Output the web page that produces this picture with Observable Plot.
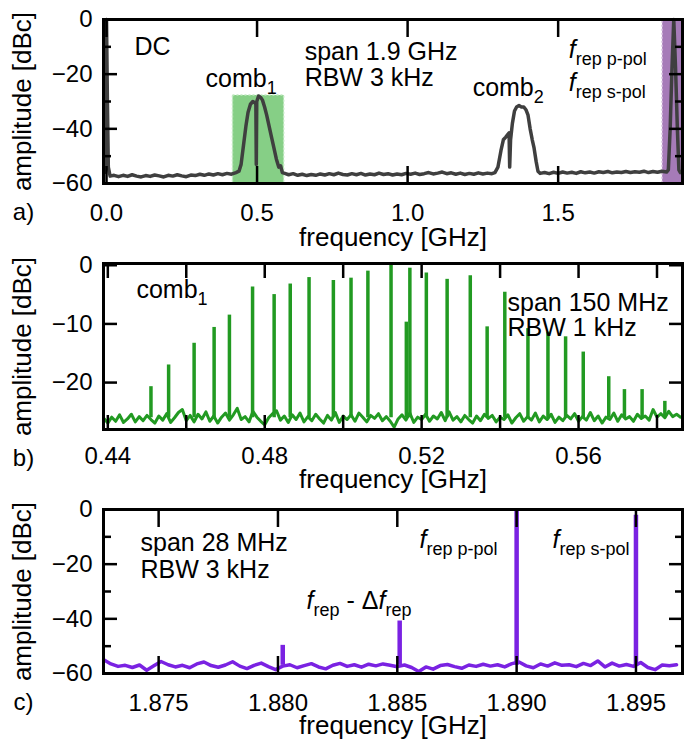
<!DOCTYPE html>
<html><head><meta charset="utf-8">
<script src="https://cdn.jsdelivr.net/npm/d3@7"></script>
<script src="https://cdn.jsdelivr.net/npm/@observablehq/plot@0.6"></script>
<style>
body{margin:0;background:#fff;}
#chart{width:691px;height:740px;}
#chart svg{display:block;}
</style></head><body><div id="chart"></div>
<script>
// ---------------- DATA ----------------
// Panel a: full span spectrum [GHz, dBc]
const spectrumA = [
[-0.006,-56],[-0.002,-2],[0.000,0],[0.003,-30],[0.006,-54],[0.012,-57.3],
[0.025,-57.0],[0.04,-57.5],[0.055,-57.0],[0.07,-57.4],[0.085,-56.8],[0.10,-57.3],[0.115,-57.6],[0.13,-57.1],
[0.145,-57.4],[0.16,-56.9],[0.175,-57.2],[0.19,-57.6],[0.205,-57.0],[0.22,-57.3],[0.235,-56.8],[0.25,-57.2],
[0.265,-57.5],[0.28,-56.9],[0.295,-57.1],[0.31,-56.6],[0.325,-57.0],[0.34,-56.5],[0.355,-56.9],[0.37,-56.4],
[0.385,-56.8],[0.40,-56.3],[0.415,-56.6],[0.43,-56.0],[0.44,-55.5],[0.447,-53],
[0.455,-46],[0.463,-39],[0.470,-34],[0.478,-31],[0.486,-30],[0.493,-30.5],[0.496,-31],[0.4975,-53],[0.499,-30],
[0.505,-28],[0.512,-28.5],[0.518,-29.5],[0.525,-32],[0.532,-35],[0.54,-39],[0.548,-43],[0.556,-47],[0.564,-51],
[0.572,-54],[0.578,-53.5],[0.584,-56],[0.592,-56.3],
[0.605,-56.8],[0.62,-56.4],[0.635,-57.0],[0.65,-56.6],[0.665,-57.1],[0.68,-56.7],[0.695,-57.0],[0.71,-56.5],
[0.725,-56.9],[0.74,-56.4],[0.755,-56.8],[0.77,-56.2],[0.785,-56.7],[0.80,-56.9],[0.815,-56.4],[0.83,-56.8],
[0.845,-56.3],[0.86,-56.9],[0.875,-56.5],[0.89,-56.8],[0.905,-56.2],[0.92,-56.7],[0.935,-56.4],[0.95,-56.9],
[0.965,-56.5],[0.98,-56.8],[0.995,-56.3],[1.01,-56.6],[1.025,-56.2],[1.04,-56.7],[1.055,-56.4],[1.07,-56.0],
[1.085,-56.5],[1.10,-56.2],[1.115,-55.8],[1.13,-56.4],[1.145,-56.1],[1.16,-56.6],[1.175,-56.2],[1.19,-56.7],
[1.205,-56.3],[1.22,-56.6],[1.235,-56.1],[1.25,-56.5],[1.265,-56.2],[1.28,-56.4],[1.29,-56.0],
[1.30,-54],[1.31,-48],[1.318,-44],[1.326,-43],[1.333,-42],[1.337,-41.5],[1.339,-54],[1.342,-44],[1.348,-38],
[1.355,-33.5],[1.362,-32],[1.37,-31.5],[1.378,-32],[1.386,-32],[1.393,-33],[1.40,-35],[1.407,-40],[1.414,-44],
[1.42,-47],[1.427,-52],[1.433,-55.5],[1.44,-56.3],
[1.455,-56.0],[1.47,-56.4],[1.485,-55.9],[1.50,-56.3],[1.515,-55.8],[1.53,-56.2],[1.545,-55.9],[1.56,-56.3],
[1.575,-55.7],[1.59,-56.1],[1.605,-55.8],[1.62,-56.2],[1.635,-55.7],[1.65,-56.0],[1.665,-55.6],[1.68,-56.1],
[1.695,-55.8],[1.71,-56.0],[1.725,-55.6],[1.74,-56.0],[1.755,-55.7],[1.77,-55.9],[1.785,-55.5],[1.80,-56.0],
[1.815,-55.6],[1.83,-55.9],[1.845,-55.5],[1.86,-55.8],[1.866,-55],
[1.872,-40],[1.878,-18],[1.884,0],[1.890,-18],[1.896,-40],[1.901,-55],[1.906,-56]
];
const comb1Box = [{x1: 0.42, x2: 0.59, y1: -60, y2: -27.8}];
const frepBand = [{x1: 1.847, x2: 1.913, y1: -60, y2: 0}];
const xTicksA = [0, 0.5, 1.0, 1.5];
const xTickLabelsA = ["0.0", "0.5", "1.0", "1.5"];
const yTicksA = [0, -20, -40, -60];
const yMinorA = [-10, -30, -50];
const labelsA = [
  {t: "DC", x: 0.093, y: -10.2},
  {t: "span 1.9 GHz", x: 0.658, y: -12.0},
  {t: "RBW 3 kHz", x: 0.658, y: -21.4},
  {t: "comb1", x: 0.329, y: -21.6},
  {t: "comb2", x: 1.216, y: -24.9},
  {t: "frepP", x: 1.535, y: -11.3},
  {t: "frepS", x: 1.535, y: -23.4}
];

// Panel b: comb1 zoom — noise floor and comb lines [GHz, dBc]
const noiseB = [
[0.439,-26.1],[0.440,-26.9],[0.441,-25.9],[0.442,-26.6],[0.443,-25.5],[0.444,-26.8],[0.445,-26.2],[0.446,-25.4],
[0.447,-26.7],[0.448,-25.8],[0.449,-26.5],[0.450,-25.6],[0.451,-26.3],[0.452,-26.9],[0.453,-25.7],[0.454,-26.4],
[0.455,-25.3],[0.456,-26.8],[0.457,-26.0],[0.458,-25.1],[0.459,-24.6],[0.460,-26.5],[0.461,-25.6],[0.462,-26.7],
[0.463,-25.4],[0.464,-26.2],[0.465,-25.0],[0.466,-26.6],[0.467,-25.7],[0.468,-26.9],[0.469,-25.9],[0.470,-25.2],
[0.471,-26.4],[0.472,-25.5],[0.473,-24.4],[0.474,-26.3],[0.475,-25.8],[0.476,-26.7],[0.477,-24.9],[0.478,-25.9],
[0.479,-26.6],[0.480,-27.2],[0.481,-26.0],[0.482,-25.3],[0.483,-24.8],[0.484,-26.4],[0.485,-25.7],[0.486,-26.8],
[0.487,-25.5],[0.488,-26.3],[0.489,-25.2],[0.490,-26.7],[0.491,-25.8],[0.492,-26.5],[0.493,-25.4],[0.494,-26.2],
[0.495,-26.9],[0.496,-25.6],[0.497,-26.4],[0.498,-25.1],[0.499,-26.8],[0.500,-25.7],[0.501,-26.3],[0.502,-25.5],
[0.503,-26.6],[0.504,-25.2],[0.505,-25.9],[0.506,-26.7],[0.507,-25.6],[0.508,-26.1],[0.509,-25.3],[0.510,-26.5],
[0.511,-25.8],[0.512,-26.6],[0.513,-27.6],[0.514,-26.2],[0.515,-25.5],[0.516,-26.4],[0.517,-25.2],[0.518,-26.8],
[0.519,-25.9],[0.520,-26.3],[0.521,-25.4],[0.522,-26.6],[0.523,-25.7],[0.524,-26.2],[0.525,-25.1],[0.526,-26.5],
[0.527,-25.0],[0.528,-26.4],[0.529,-25.8],[0.530,-26.7],[0.531,-25.6],[0.532,-26.3],[0.533,-26.9],[0.534,-25.7],
[0.535,-26.5],[0.536,-25.4],[0.537,-26.1],[0.538,-25.6],[0.539,-26.7],[0.540,-25.9],[0.541,-26.3],[0.542,-25.5],
[0.543,-26.9],[0.544,-26.0],[0.545,-25.3],[0.546,-26.6],[0.547,-25.8],[0.548,-26.4],[0.549,-25.2],[0.550,-26.7],
[0.551,-25.7],[0.552,-26.3],[0.553,-25.4],[0.554,-26.8],[0.555,-25.9],[0.556,-26.5],[0.557,-25.6],[0.558,-26.2],
[0.559,-25.3],[0.560,-26.6],[0.561,-25.8],[0.562,-26.4],[0.563,-25.1],[0.564,-26.5],[0.565,-25.7],[0.566,-26.9],
[0.567,-25.9],[0.568,-26.3],[0.569,-25.2],[0.570,-26.6],[0.571,-25.5],[0.572,-26.2],[0.573,-25.8],[0.574,-26.6],
[0.575,-25.4],[0.576,-26.1],[0.577,-25.7],[0.578,-26.4],[0.579,-24.6],[0.580,-25.9],[0.581,-25.3],[0.582,-26.0],
[0.583,-24.9],[0.584,-25.8],[0.585,-25.4],[0.586,-25.9]
];
const floorB = -26;
const peaksB = [
[0.4510,-20.7],[0.4555,-17.0],[0.4620,-13.3],[0.4671,-10.6],[0.4710,-8.5],[0.4769,-3.7],[0.4824,-5.0],
[0.4865,-3.2],[0.4913,-2.1],[0.4975,-2.6],[0.5020,-2.2],[0.5063,-1.0],[0.5122,0],[0.5161,-9.7],[0.5170,-0.5],
[0.5212,-1.3],[0.5265,-2.4],[0.5324,-1.8],[0.5367,-10.5],[0.5412,-4.6],[0.5471,-10.8],[0.5522,-11.4],
[0.5567,-12.2],[0.5612,-14.8],[0.5677,-19.0],[0.5717,-21.2],[0.5762,-21.2],[0.5820,-23.2]
];
const xTicksB = [0.44, 0.46, 0.48, 0.50, 0.52, 0.54, 0.56, 0.58];
const xLabelTicksB = [0.44, 0.48, 0.52, 0.56];
const yTicksB = [0, -10, -20];
const labelsB = [
  {t: "comb1", x: 0.4473, y: -4.3},
  {t: "span 150 MHz", x: 0.5419, y: -6.4},
  {t: "RBW 1 kHz", x: 0.5419, y: -10.7}
];

// Panel c: repetition-rate region [GHz, dBc]
const noiseC = [
[1.8727,-55.0],[1.8730,-56.5],[1.8733,-57.4],[1.8736,-57.0],[1.8739,-57.8],[1.8742,-56.9],[1.8745,-58.8],
[1.8748,-57.2],[1.8751,-55.6],[1.8754,-56.8],[1.8757,-57.6],[1.8760,-57.0],[1.8763,-57.9],[1.8766,-56.5],
[1.8769,-55.8],[1.8772,-57.1],[1.8775,-57.7],[1.8778,-56.9],[1.8781,-55.7],[1.8784,-57.3],[1.8787,-58.2],
[1.8790,-57.0],[1.8793,-56.2],[1.8796,-57.5],[1.8799,-58.6],[1.8802,-57.3],[1.8805,-56.8],[1.8808,-57.9],
[1.8811,-57.1],[1.8814,-56.4],[1.8817,-57.6],[1.8820,-58.3],[1.8823,-57.0],[1.8826,-56.3],[1.8829,-57.4],
[1.8832,-56.8],[1.8835,-57.7],[1.8838,-56.6],[1.8841,-57.2],[1.8844,-56.5],[1.8847,-57.0],[1.8850,-57.5],
[1.8853,-56.9],[1.8856,-57.8],[1.8859,-59.3],[1.8862,-57.6],[1.8865,-58.4],[1.8868,-57.1],[1.8871,-56.7],
[1.8874,-57.5],[1.8877,-58.1],[1.8880,-56.9],[1.8883,-57.4],[1.8886,-56.6],[1.8889,-57.3],[1.8892,-56.8],
[1.8895,-57.6],[1.8898,-56.4],[1.8901,-55.8],[1.8904,-57.2],[1.8907,-57.9],[1.8910,-56.5],[1.8913,-57.3],
[1.8916,-56.1],[1.8919,-57.0],[1.8922,-56.8],[1.8925,-57.5],[1.8928,-56.3],[1.8931,-57.1],[1.8934,-55.4],
[1.8937,-57.6],[1.8940,-56.2],[1.8943,-57.3],[1.8946,-56.7],[1.8949,-57.4],[1.8952,-56.0],[1.8955,-57.8],
[1.8958,-58.6],[1.8961,-56.9],[1.8964,-57.2],[1.8967,-56.8]
];
const floorC = -57;
const peaksC = [[1.8802,-49.7],[1.8851,-40.8],[1.8900,0],[1.8950,-2.1]];
const xTicksC = [1.875, 1.880, 1.885, 1.890, 1.895];
const yTicksC = [0, -20, -40, -60];
const yMinorC = [-10, -30, -50];
const labelsC = [
  {t: "span 28 MHz", x: 1.87424, y: -12.4},
  {t: "RBW 3 kHz", x: 1.87424, y: -22.3},
  {t: "frepDelta", x: 1.88120, y: -33.3},
  {t: "frepP", x: 1.88593, y: -11.3},
  {t: "frepS", x: 1.89150, y: -11.3}
];

// rich text (subscripts / italics)
const RICH = {
  "comb1": [["comb"], ["1", "sub"]],
  "comb2": [["comb"], ["2", "sub"]],
  "frepP": [["f", "it"], ["rep p-pol", "sub"]],
  "frepS": [["f", "it"], ["rep s-pol", "sub"]],
  "frepDelta": [["f", "it"], ["rep", "sub"], [" - Δ"], ["f", "it"], ["rep", "sub"]]
};

// ---------------- DRAWING ----------------
const FONT = "'Liberation Sans', Arial, Helvetica, sans-serif";
const SVGNS = "http://www.w3.org/2000/svg";

function richify(svg) {
  svg.querySelectorAll("text").forEach(t => {
    const spec = RICH[t.textContent];
    if (!spec) return;
    t.textContent = "";
    let shifted = 0;
    for (const [s, kind] of spec) {
      const ts = document.createElementNS(SVGNS, "tspan");
      ts.textContent = s;
      const want = kind === "sub" ? 7 : 0;
      if (want !== shifted) { ts.setAttribute("dy", want - shifted); shifted = want; }
      if (kind === "sub") ts.setAttribute("font-size", 18);
      if (kind === "it") ts.setAttribute("font-style", "italic");
      t.appendChild(ts);
    }
  });
}

function axes({xTicks, xLabelTicks, xFmt, xTickLen, xPad, yTicks, yMinor, yTickLen}) {
  const m = [];
  m.push(Plot.axisX(xTicks, {anchor: "bottom", tickSize: -xTickLen, fill: "none", label: null, strokeWidth: 2.5}));
  m.push(Plot.axisX(xTicks, {anchor: "top", tickSize: -xTickLen, fill: "none", label: null, strokeWidth: 2.5}));
  m.push(Plot.axisX(xLabelTicks, {anchor: "bottom", tickSize: 0, tickPadding: xPad, tickFormat: xFmt, fontSize: 24, label: null}));
  m.push(Plot.axisY(yTicks, {anchor: "left", tickSize: -yTickLen, tickPadding: yTickLen + 11, fontSize: 24, label: null, strokeWidth: 2.5}));
  m.push(Plot.axisY(yTicks, {anchor: "right", tickSize: -yTickLen, fill: "none", label: null, strokeWidth: 2.5}));
  if (yMinor) {
    m.push(Plot.axisY(yMinor, {anchor: "left", tickSize: -8, fill: "none", label: null, strokeWidth: 2.5}));
    m.push(Plot.axisY(yMinor, {anchor: "right", tickSize: -8, fill: "none", label: null, strokeWidth: 2.5}));
  }
  return m;
}

function titles(letter, xLabelDy) {
  return [
    Plot.text(["amplitude [dBc]"], {frameAnchor: "left", textAnchor: "middle", lineAnchor: "middle", rotate: -90, dx: -81, fontSize: 26, text: d => d}),
    Plot.text(["frequency [GHz]"], {frameAnchor: "bottom", textAnchor: "middle", lineAnchor: "middle", dy: xLabelDy, fontSize: 26, text: d => d}),
    Plot.text([letter], {frameAnchor: "bottom-left", textAnchor: "middle", lineAnchor: "middle", dx: -80, dy: 29, fontSize: 24, text: d => d})
  ];
}

const styleObj = {fontFamily: FONT, fontSize: "24px", color: "black", background: "white", overflow: "visible"};
const root = document.getElementById("chart");

// Panel a
const plotA = Plot.plot({
  width: 691, height: 245, marginLeft: 103, marginRight: 9, marginTop: 19, marginBottom: 62,
  style: styleObj,
  x: {domain: [-0.01, 1.913]},
  y: {domain: [-60, 0]},
  marks: [
    Plot.rect(comb1Box, {x1: "x1", x2: "x2", y1: "y1", y2: "y2", fill: "#86cf86", stroke: "#c2e9c2", strokeWidth: 1.5, strokeDasharray: "2,2"}),
    Plot.rect(frepBand, {x1: "x1", x2: "x2", y1: "y1", y2: "y2", fill: "#a67bb8", stroke: "#d2b8dc", strokeWidth: 1.5, strokeDasharray: "2,2"}),
    Plot.line(spectrumA, {x: d => d[0], y: d => d[1], stroke: "#3f3f3f", strokeWidth: 3.5, strokeLinejoin: "round"}),
    ...axes({xTicks: xTicksA, xLabelTicks: xTicksA, xFmt: (d, i) => xTickLabelsA[i], xTickLen: 17, xPad: 20, yTicks: yTicksA, yMinor: yMinorA, yTickLen: 14}),
    Plot.frame({strokeWidth: 3}),
    Plot.text(labelsA, {x: "x", y: "y", text: "t", textAnchor: "start", fontSize: 25}),
    ...titles("a)", 54)
  ]
});
richify(plotA);
root.appendChild(plotA);

// Panel b
const GREEN = "#229a22";
const plotB = Plot.plot({
  width: 691, height: 245, marginLeft: 103, marginRight: 9, marginTop: 18, marginBottom: 61,
  style: styleObj,
  x: {domain: [0.4389, 0.5865]},
  y: {domain: [-28, 0.3]},
  marks: [
    Plot.line(noiseB, {x: d => d[0], y: d => d[1], stroke: GREEN, strokeWidth: 3, strokeLinejoin: "round"}),
    Plot.ruleX(peaksB, {x: d => d[0], y1: () => floorB, y2: d => d[1], stroke: GREEN, strokeWidth: 3.5}),
    ...axes({xTicks: xTicksB, xLabelTicks: xLabelTicksB, xFmt: d => d.toFixed(2), xTickLen: 14, xPad: 17, yTicks: yTicksB, yMinor: null, yTickLen: 14}),
    Plot.frame({strokeWidth: 3}),
    Plot.text(labelsB, {x: "x", y: "y", text: "t", textAnchor: "start", fontSize: 25}),
    ...titles("b)", 50)
  ]
});
richify(plotB);
root.appendChild(plotB);

// Panel c
const VIOLET = "#7a22e2";
const plotC = Plot.plot({
  width: 691, height: 250, marginLeft: 103, marginRight: 9, marginTop: 19, marginBottom: 67,
  style: styleObj,
  x: {domain: [1.87269, 1.89695]},
  y: {domain: [-60, 0]},
  marks: [
    Plot.line(noiseC, {x: d => d[0], y: d => d[1], stroke: VIOLET, strokeWidth: 3.5, strokeLinejoin: "round"}),
    Plot.ruleX(peaksC, {x: d => d[0], y1: () => floorC, y2: d => d[1], stroke: VIOLET, strokeWidth: 4.5}),
    ...axes({xTicks: xTicksC, xLabelTicks: xTicksC, xFmt: d => d.toFixed(3), xTickLen: 17, xPad: 20, yTicks: yTicksC, yMinor: yMinorC, yTickLen: 14}),
    Plot.frame({strokeWidth: 3}),
    Plot.text(labelsC, {x: "x", y: "y", text: "t", textAnchor: "start", fontSize: 25}),
    ...titles("c)", 52)
  ]
});
richify(plotC);
root.appendChild(plotC);
</script>
</body></html>
